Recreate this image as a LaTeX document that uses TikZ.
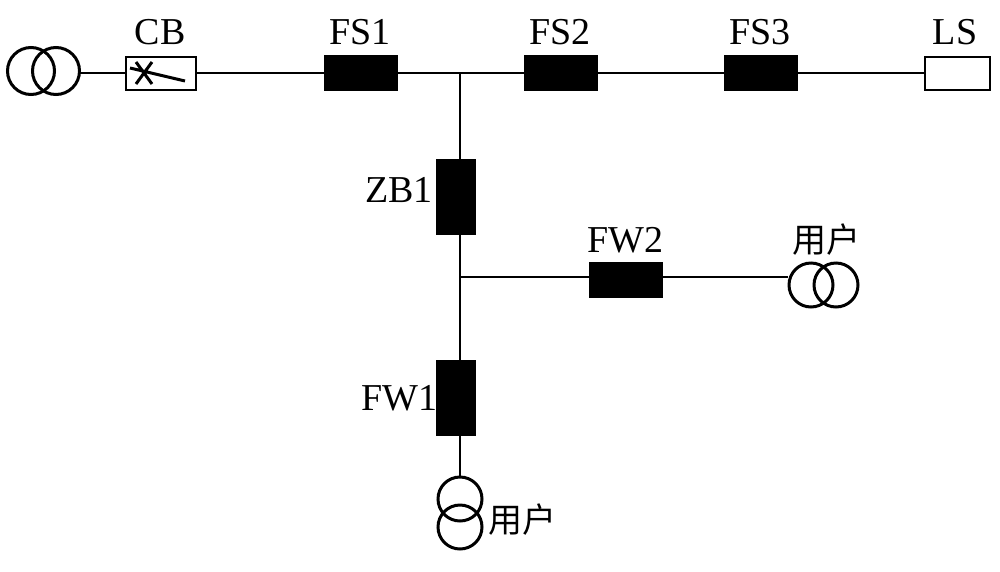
\documentclass[tikz,border=0pt]{standalone}
\usepackage{fontspec}
\setmainfont{Liberation Serif}
\newfontfamily\cjk{Noto Sans CJK SC}
\begin{document}
\begin{tikzpicture}[x=1pt,y=-1pt,line width=2.5pt,
  sw/.style={draw,fill=black,minimum width=72pt,minimum height=33pt,inner sep=0pt},
  swv/.style={draw,fill=black,minimum width=38pt,minimum height=73pt,inner sep=0pt},
  lbl/.style={font=\fontsize{38}{38}\selectfont,inner sep=0pt},
  clbl/.style={font=\cjk\fontsize{34}{34}\selectfont,inner sep=0pt}]
\useasboundingbox (0,0) rectangle (1000,571);
% source transformer
\draw[line width=3pt] (31,71) circle (23.5);
\draw[line width=3pt] (56,71) circle (23.5);
\coordinate (s) at (80,73);
\node[draw,fill=white,minimum width=70pt,minimum height=33pt,inner sep=0pt,line width=2pt] (cb) at (161,73) {};
\node[sw] (fs1) at (361,73) {};
\node[sw] (fs2) at (561,73) {};
\node[sw] (fs3) at (761,73) {};
\node[draw,fill=white,minimum width=65pt,minimum height=33pt,inner sep=0pt,line width=2pt] (ls) at (957,73) {};
\coordinate (j1) at (460,73);
\node[swv] (zb1) at (456,197) {};
\coordinate (j2) at (460,277);
\node[sw] (fw2) at (626,280) {};
\node[swv] (fw1) at (456,398) {};
\draw (s) -- (cb.west);
\draw (cb.east) -- (fs1) -- (fs2) -- (fs3) -- (ls);
\draw (j1) -- (j1|-zb1.north);
\draw (j1|-zb1.south) -- (j1|-fw1.north);
\draw (j2) -- (fw2.west|-j2);
\draw (fw2.east|-j2) -- (788,277);
\draw[line width=3pt] (811,285) circle (22);
\draw[line width=3pt] (836,285) circle (22);
\draw (j1|-fw1.south) -- (460,477);
\draw[line width=3pt] (460,499) circle (22);
\draw[line width=3pt] (460,527) circle (22);
% CB internals
\draw[line width=3pt] (136,62) -- (152,84) (136,84) -- (152,62) (130,68) -- (185,81);
% labels
\node[lbl] at (160,32) {CB};
\node[lbl] at (360,32) {FS1};
\node[lbl] at (560,32) {FS2};
\node[lbl] at (760,32) {FS3};
\node[lbl] at (955,32) {LS};
\node[lbl] at (399,190) {ZB1};
\node[lbl] at (625,240) {FW2};
\node[lbl] at (399,398) {FW1};
\node[clbl] at (826,240) {用户};
\node[clbl] at (522,520) {用户};
\end{tikzpicture}
\end{document}
